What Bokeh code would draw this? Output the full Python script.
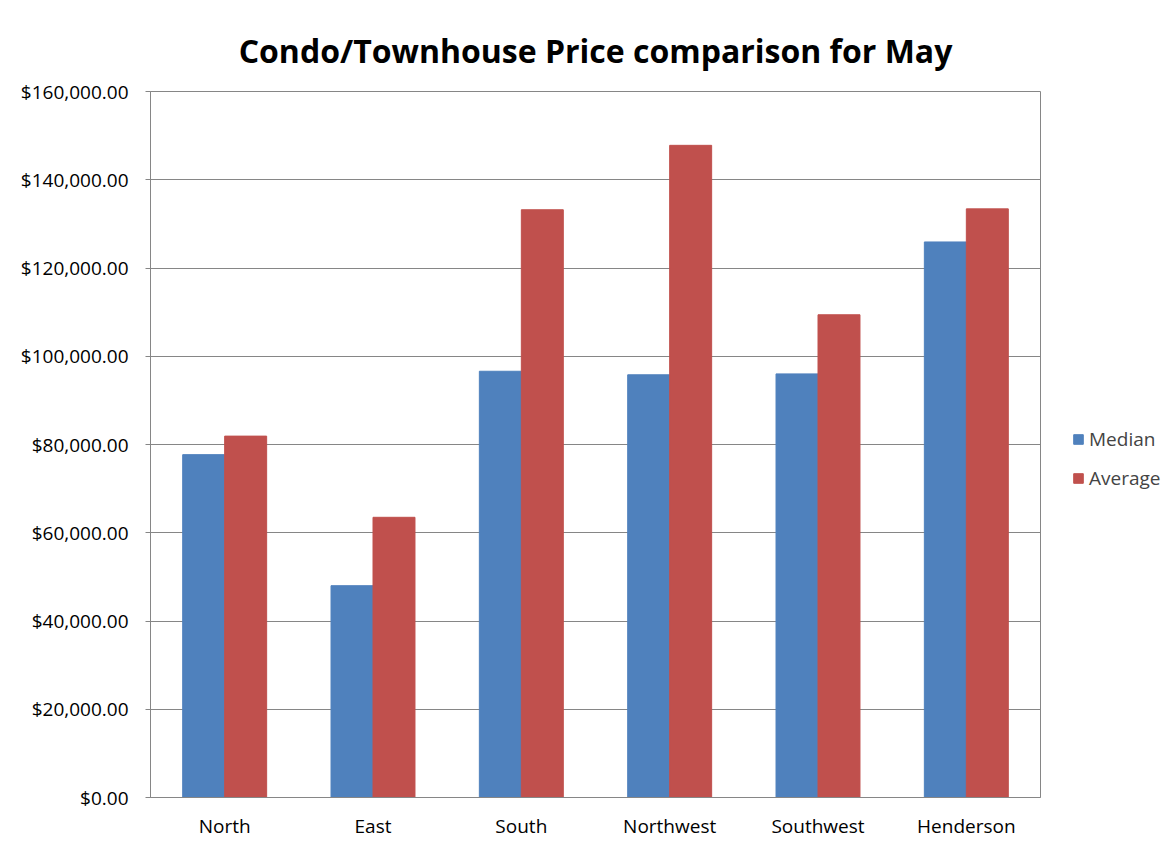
from bokeh.plotting import figure
from bokeh.models import ColumnDataSource, FactorRange, Range1d, NumeralTickFormatter, Legend, LegendItem, SingleIntervalTicker
from bokeh.transform import dodge
from bokeh.embed import file_html
from bokeh.resources import INLINE

categories = ["North", "East", "South", "Northwest", "Southwest", "Henderson"]
median = [77700, 48000, 96600, 95800, 96000, 125900]
average = [81900, 63500, 133200, 147800, 109400, 133400]
title = "Condo/Townhouse Price comparison for May"

BLUE = "#4F81BD"
RED = "#C0504D"
GRID = "#868686"
FONT = "Open Sans"

src = ColumnDataSource(dict(cat=categories, median=median, average=average))

p = figure(x_range=FactorRange(*categories, range_padding=0), y_range=Range1d(0, 160000),
           frame_width=890, frame_height=706,
           min_border_left=150, min_border_right=118, min_border_top=91, min_border_bottom=35,
           output_backend="svg", toolbar_location=None, title=title)

p.title.align = "center"
p.title.text_font = FONT
p.title.text_font_style = "bold"
p.title.text_font_size = "32px"
p.title.text_color = "#000000"
p.title.standoff = 40

bw = 0.283
r1 = p.vbar(x=dodge("cat", -bw / 2, range=p.x_range), top="median", width=bw, source=src,
            fill_color=BLUE, line_color=BLUE)
r2 = p.vbar(x=dodge("cat", bw / 2, range=p.x_range), top="average", width=bw, source=src,
            fill_color=RED, line_color=RED)

p.yaxis.ticker = SingleIntervalTicker(interval=20000)
p.yaxis.formatter = NumeralTickFormatter(format="$0,0.00")
p.ygrid.grid_line_color = GRID
p.ygrid.grid_line_width = 1
p.xgrid.grid_line_color = None

for ax in (p.xaxis[0], p.yaxis[0]):
    ax.axis_line_color = GRID
    ax.major_label_text_font = FONT
    ax.major_label_text_font_size = "19px"
    ax.major_label_text_color = "#000000"
    ax.minor_tick_line_color = None

p.yaxis.major_tick_line_color = GRID
p.yaxis.major_tick_in = 0
p.yaxis.major_tick_out = 5
p.yaxis.major_label_standoff = 17
p.xaxis.major_tick_line_color = None
p.xaxis.major_label_standoff = 9

p.outline_line_color = GRID
p.outline_line_width = 1

legend = Legend(items=[LegendItem(label="Median", renderers=[r1]),
                       LegendItem(label="Average", renderers=[r2])],
                location=(32, 306), orientation="vertical",
                glyph_width=12, glyph_height=12, label_height=20, spacing=13,
                label_standoff=5, padding=0, margin=0,
                border_line_color=None, background_fill_alpha=0,
                label_text_font=FONT, label_text_font_size="19px")
p.add_layout(legend, "right")

open("out.html", "w").write(file_html(p, INLINE))
